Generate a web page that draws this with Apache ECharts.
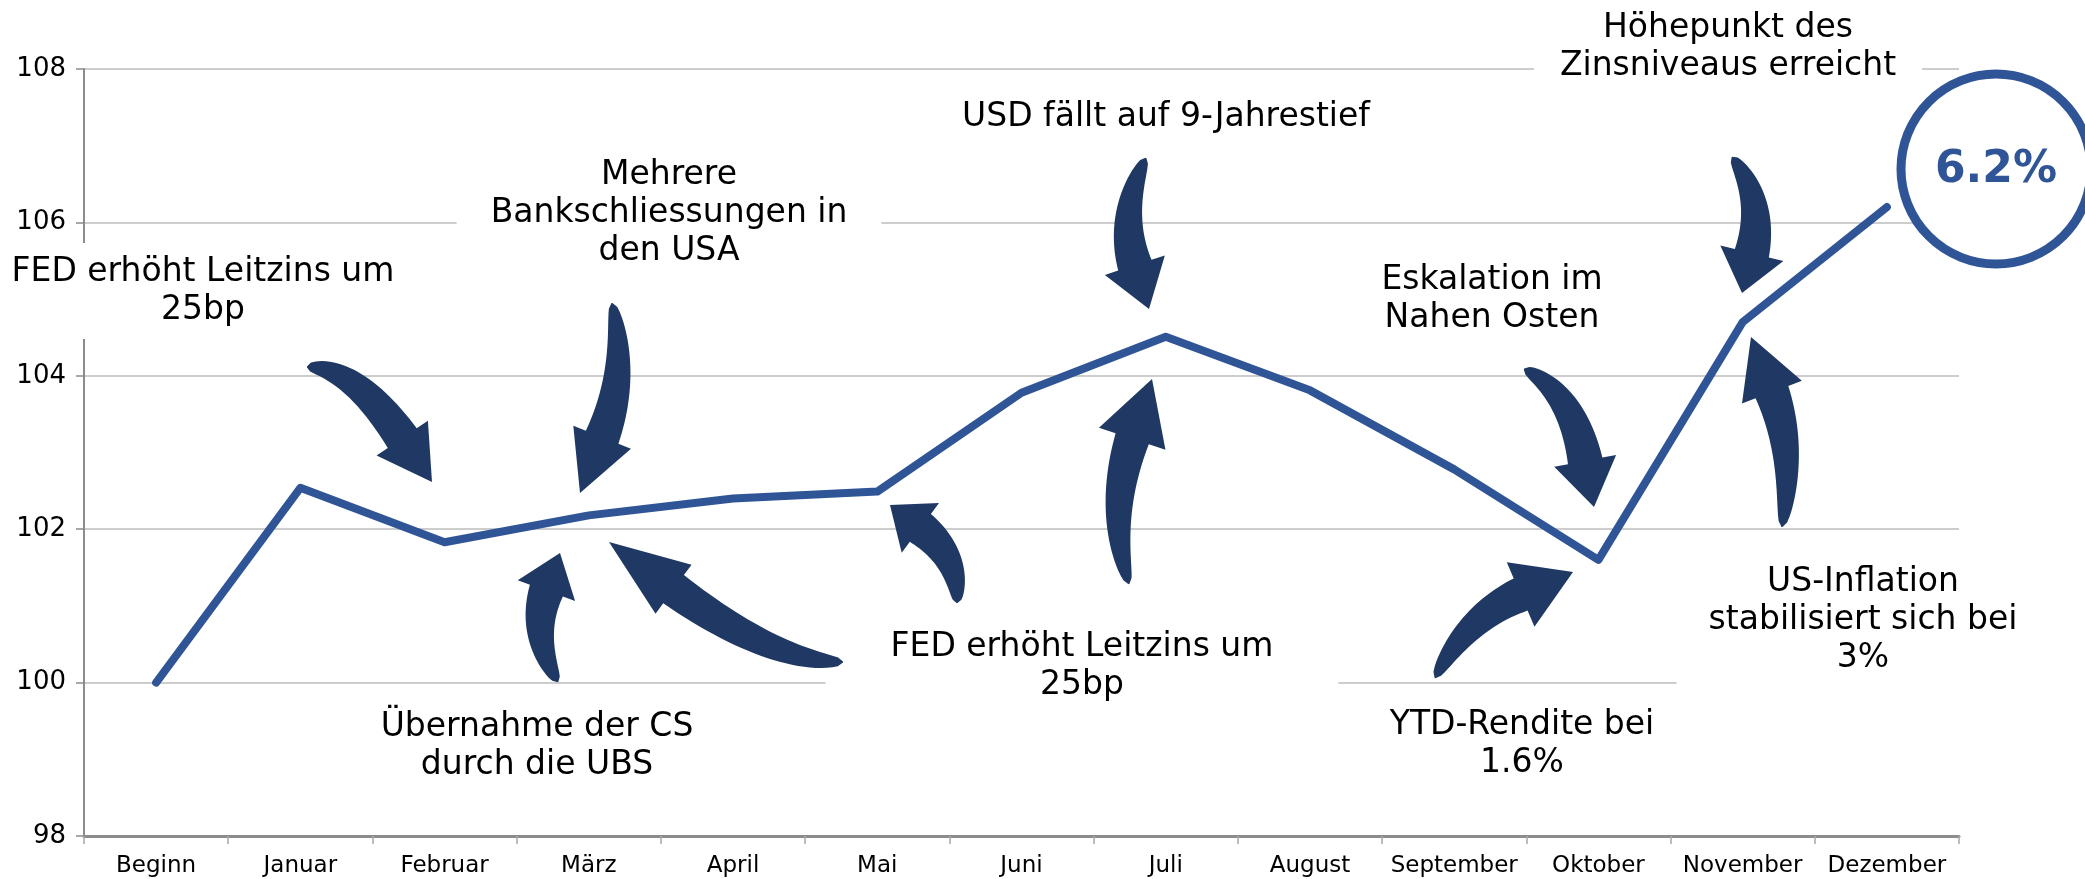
<!DOCTYPE html>
<html>
<head>
<meta charset="utf-8">
<script src="https://cdn.jsdelivr.net/npm/echarts@6/dist/echarts.min.js"></script>
<style>
html,body{margin:0;padding:0;background:#fff;}
#main{width:2085px;height:879px;}
</style>
</head>
<body>
<div id="main"></div>
<script>
var months=['Beginn','Januar','Februar','März','April','Mai','Juni','Juli','August','September','Oktober','November','Dezember'];
var index_val=[100,102.54,101.83,102.18,102.4,102.49,103.78,104.51,103.81,102.78,101.6,104.7,106.2];
var y_min=98, y_max=108, y_step=2;
var end_label='6.2%';

var LINE_BLUE='#2F5597';
var ARROW_BLUE='#1F3864';
var FONT='"DejaVu Sans", Verdana, sans-serif';

//Textfelder (weisser Hintergrund deckt Gitterlinien ab)
var notes=[
	{text:'FED erhöht Leitzins um\n25bp', x:203, y:291, pad:[10,20]},
	{text:'Mehrere\nBankschliessungen in\nden USA', x:669, y:213, pad:[8,34]},
	{text:'USD fällt auf 9-Jahrestief', x:1166, y:117, pad:[8,20]},
	{text:'Höhepunkt des\nZinsniveaus erreicht', x:1728, y:47, pad:[6,26]},
	{text:'Eskalation im\nNahen Osten', x:1492, y:299, pad:[8,20]},
	{text:'Übernahme der CS\ndurch die UBS', x:537, y:746, pad:[8,20]},
	{text:'FED erhöht Leitzins um\n25bp', x:1082, y:666, pad:[8,65]},
	{text:'YTD-Rendite bei\n1.6%', x:1522, y:744, pad:[8,20]},
	{text:'US-Inflation\nstabilisiert sich bei\n3%', x:1863, y:620, pad:[10,32]}
];

//gebogene Pfeile: Schwanz, Kontrollpunkt, Spitze, Kopflaenge, Kopfbreite
var arrows=[
	{tail:[307,367], ctrl:[354,367], tip:[432,482], hl:53, hw:62},
	{tail:[612,303], ctrl:[628,372], tip:[580,493], hl:60, hw:62},
	{tail:[558,682], ctrl:[530,636], tip:[560,553], hl:40, hw:61},
	{tail:[843,662], ctrl:[773,662], tip:[609,542], hl:80, hw:61},
	{tail:[957,603], ctrl:[959,557], tip:[890,505], hl:38, hw:62},
	{tail:[1146,158], ctrl:[1118,213], tip:[1149,309], hl:46, hw:63},
	{tail:[1129,584], ctrl:[1107,515], tip:[1152,379], hl:63, hw:70},
	{tail:[1524,369], ctrl:[1572,392], tip:[1594,507], hl:47, hw:63},
	{tail:[1435,678], ctrl:[1466,618], tip:[1573,572], hl:57, hw:70},
	{tail:[1732,157], ctrl:[1765,200], tip:[1742,293], hl:41, hw:65},
	{tail:[1782,527], ctrl:[1795,453], tip:[1751,337], hl:59, hw:64}
];

//Polygon fuer einen Pfeil berechnen
function arrowPoints(a){
	var sw=34, n=28;
	var dx=a.tip[0]-a.ctrl[0], dy=a.tip[1]-a.ctrl[1];
	var dl=Math.sqrt(dx*dx+dy*dy);
	dx/=dl; dy/=dl;
	var base=[a.tip[0]-dx*a.hl, a.tip[1]-dy*a.hl];
	var left=[], right=[];
	for(var i=0;i<=n;i++){
		var t=i/n, u=1-t;
		var px=u*u*a.tail[0]+2*u*t*a.ctrl[0]+t*t*base[0];
		var py=u*u*a.tail[1]+2*u*t*a.ctrl[1]+t*t*base[1];
		var tx=2*u*(a.ctrl[0]-a.tail[0])+2*t*(base[0]-a.ctrl[0]);
		var ty=2*u*(a.ctrl[1]-a.tail[1])+2*t*(base[1]-a.ctrl[1]);
		var tl=Math.sqrt(tx*tx+ty*ty)||1;
		var nx=-ty/tl, ny=tx/tl;
		var w=sw/2*Math.pow(t,0.45)+0.5;
		left.push([px+nx*w, py+ny*w]);
		right.push([px-nx*w, py-ny*w]);
	}
	var hx=-dy*a.hw/2, hy=dx*a.hw/2;
	var pts=left.slice();
	pts.push([base[0]+hx, base[1]+hy]);
	pts.push([a.tip[0], a.tip[1]]);
	pts.push([base[0]-hx, base[1]-hy]);
	for(var j=right.length-1;j>=0;j--){
		pts.push(right[j]);
	}
	return pts;
}

var graphics=[];
for(var i=0;i<notes.length;i++){
	graphics.push({
		type:'text', x:notes[i].x, y:notes[i].y, z:1,
		style:{
			text:notes[i].text, fill:'#000', font:'33px '+FONT,
			align:'center', verticalAlign:'middle', lineHeight:38,
			backgroundColor:'#fff', padding:notes[i].pad
		}
	});
}
for(var k=0;k<arrows.length;k++){
	graphics.push({
		type:'polygon', z:3,
		shape:{points:arrowPoints(arrows[k])},
		style:{fill:ARROW_BLUE}
	});
}
//Kreis mit Endwert
graphics.push({
	type:'circle', z:4,
	shape:{cx:1996, cy:169, r:95},
	style:{fill:'#fff', stroke:LINE_BLUE, lineWidth:9}
});
graphics.push({
	type:'text', x:1996, y:171, z:5,
	style:{text:end_label, fill:LINE_BLUE, font:'bold 44px '+FONT, align:'center', verticalAlign:'middle'}
});

var option={
	backgroundColor:'#fff',
	animation:false,
	grid:{left:84, right:126, top:69, bottom:43},
	xAxis:{
		type:'category',
		data:months,
		boundaryGap:true,
		axisLine:{lineStyle:{color:'#8c8c8c', width:3}},
		axisTick:{show:true, length:8, lineStyle:{color:'#a6a6a6', width:1.5}},
		axisLabel:{color:'#000', fontSize:23, fontFamily:FONT, margin:19, interval:0}
	},
	yAxis:{
		type:'value',
		min:y_min, max:y_max, interval:y_step,
		axisLine:{show:true, lineStyle:{color:'#8c8c8c', width:2}},
		axisTick:{show:true, length:8, lineStyle:{color:'#8c8c8c', width:1.5}},
		axisLabel:{color:'#000', fontSize:26, fontFamily:FONT, margin:18},
		splitLine:{lineStyle:{color:'#bcbcbc', width:1.5}}
	},
	series:[
		{
			name:'Index',
			type:'line',
			data:index_val,
			symbol:'none',
			z:2,
			lineStyle:{color:LINE_BLUE, width:8, cap:'round', join:'round'}
		}
	],
	graphic:graphics
};

var myChart=echarts.init(document.getElementById('main'));
myChart.setOption(option);
</script>
</body>
</html>
